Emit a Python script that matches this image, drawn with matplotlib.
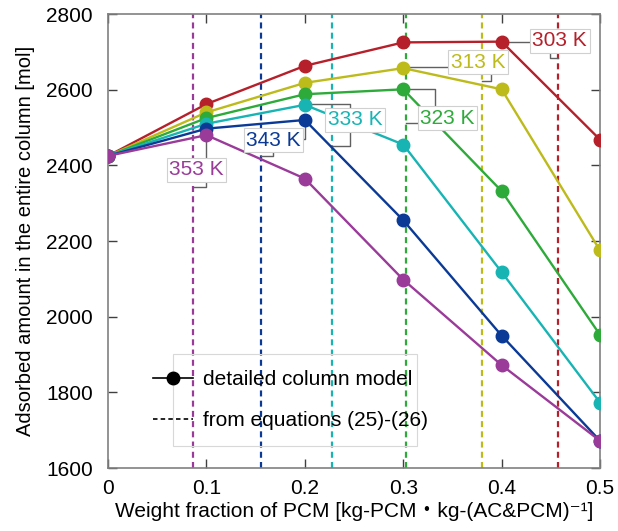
import matplotlib
matplotlib.use("Agg")
import matplotlib.pyplot as plt
from matplotlib.lines import Line2D
from matplotlib.patches import Rectangle

plt.rcParams['font.family'] = ['Liberation Sans', 'DejaVu Sans']

x = [0, 0.1, 0.2, 0.3, 0.4, 0.5]
temps = ["303 K", "313 K", "323 K", "333 K", "343 K", "353 K"]
colors = ["#B5202A", "#BDBB1B", "#2EAA3A", "#18B4B4", "#0A3A96", "#9A3B99"]
y303 = [2425, 2562, 2663, 2725, 2727, 2468]
y313 = [2425, 2540, 2618, 2657, 2601, 2175]
y323 = [2425, 2525, 2588, 2601, 2332, 1952]
y333 = [2425, 2510, 2560, 2455, 2118, 1773]
y343 = [2425, 2497, 2520, 2255, 1950, 1672]
y353 = [2425, 2480, 2365, 2098, 1872, 1672]
series = [y303, y313, y323, y333, y343, y353]
eq_x = [0.457, 0.380, 0.303, 0.228, 0.155, 0.086]

# label text centers and connector polylines (annotation geometry)
label_pos = [(0.459, 2729), (0.376, 2673), (0.345, 2525), (0.251, 2520), (0.168, 2467), (0.090, 2388)]
leaders = [
    [[(0.4, 2727), (0.43, 2727)], [(0.449, 2697), (0.449, 2684), (0.457, 2684)]],
    [[(0.3, 2660), (0.345, 2660)], [(0.389, 2641), (0.389, 2623), (0.380, 2623)]],
    [[(0.3, 2601), (0.332, 2601), (0.332, 2554)], [(0.316, 2512), (0.303, 2512)]],
    [[(0.2, 2562), (0.246, 2562), (0.246, 2551)], [(0.246, 2485), (0.246, 2451), (0.228, 2451)]],
    [[(0.2, 2520), (0.2, 2470), (0.198, 2470)], [(0.168, 2440), (0.168, 2425), (0.155, 2425)]],
    [[(0.1, 2480), (0.1, 2419)], [(0.1, 2356), (0.1, 2343), (0.086, 2343)]],
]

fig = plt.figure(figsize=(6.18, 5.31), dpi=100)
ax = fig.add_axes([0.1748, 0.1186, 0.7961, 0.855])

dash = (0, (2.7, 1.9))
for xe, c in zip(eq_x, colors):
    ax.axvline(xe, color=c, ls=dash, lw=1.6, zorder=1)

for ys, c in zip(series, colors):
    ax.plot(x, ys, color=c, lw=1.7, marker='o', ms=9, zorder=3)

for (lx, ly), segs, t, c in zip(label_pos, leaders, temps, colors):
    for seg in segs:
        ax.plot([p[0] for p in seg], [p[1] for p in seg], color='#606060', lw=1.0, zorder=2)
    ax.text(lx, ly, t, color=c, fontsize=15, ha='center', va='center', zorder=4,
            bbox=dict(boxstyle='square,pad=0.12', fc='white', ec='#d0d0d0', lw=0.8))

ax.set_xlim(0, 0.5)
ax.set_ylim(1600, 2800)
ax.set_xticks([0, 0.1, 0.2, 0.3, 0.4, 0.5])
ax.set_xticklabels(["0", "0.1", "0.2", "0.3", "0.4", "0.5"])
ax.set_yticks([1600, 1800, 2000, 2200, 2400, 2600, 2800])
ax.tick_params(direction='in', top=True, right=True, length=6.5, width=1, labelsize=15,
               color='#404040', labelcolor='black')
ax.tick_params(axis='x', pad=8)
ax.tick_params(axis='y', pad=11)
for s in ax.spines.values():
    s.set_color('#808080')
    s.set_linewidth(1.2)

ax.set_xlabel("Weight fraction of PCM [kg-PCM\u30fbkg-(AC&PCM)\u207b\u00b9]", fontsize=15, labelpad=3,
              family=['Liberation Sans', 'Noto Sans CJK JP', 'DejaVu Sans'])
ax.set_ylabel("Adsorbed amount in the entire column [mol]", fontsize=14.5, labelpad=8)

# legend frame (transparent) and entries
ax.add_patch(Rectangle((0.1321, 0.0485), 0.628 - 0.1321, 0.251 - 0.0485, transform=ax.transAxes,
                       fill=False, ec='#d8d8d8', lw=0.8, zorder=5))
handles = [Line2D([0], [0], color='black', lw=1.2, marker='o', ms=9),
           Line2D([0], [0], color='black', lw=1.2, ls=dash)]
leg = ax.legend(handles, ["detailed column model", "from equations (25)-(26)"],
                loc='center left', bbox_to_anchor=(0.0915, 0.150), fontsize=15, frameon=False,
                handlelength=1.9, handletextpad=0.5, labelspacing=1.05, borderpad=0,
                borderaxespad=0)

fig.savefig("out.png", dpi=100)
